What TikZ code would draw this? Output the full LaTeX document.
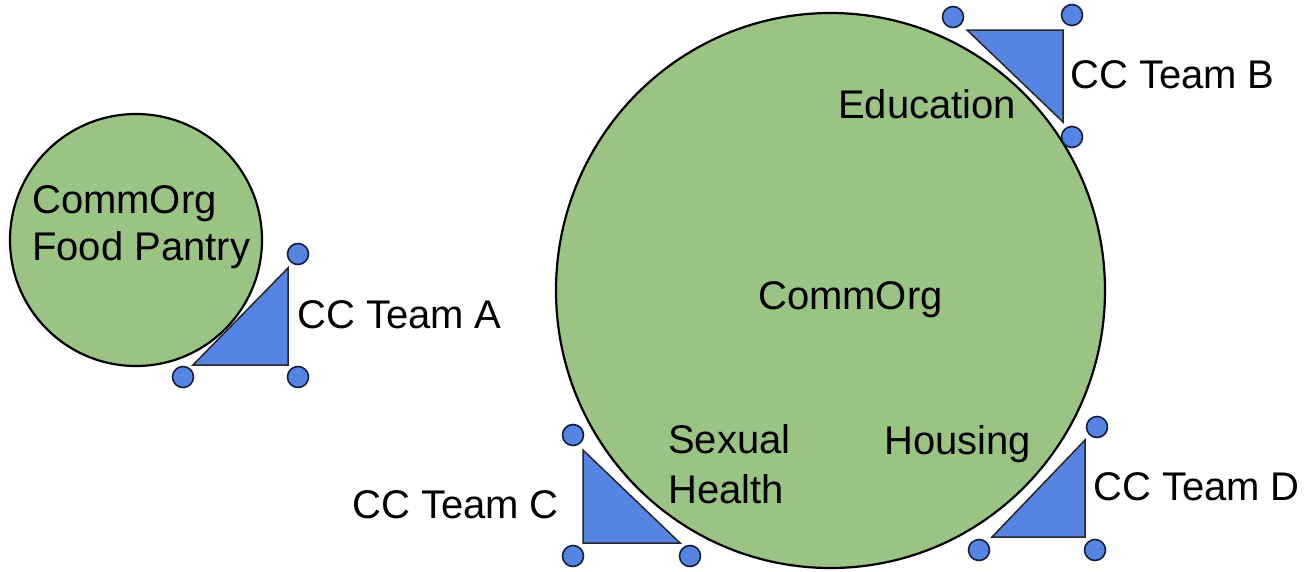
\documentclass[tikz,border=0pt]{standalone}
\usepackage{fontspec}
\setmainfont{Liberation Sans}
\definecolor{orggreen}{RGB}{155,195,131}
\definecolor{teamblue}{RGB}{86,132,226}
\definecolor{handleedge}{RGB}{20,30,60}
\begin{document}
\begin{tikzpicture}[x=1pt,y=-1pt,
  org/.style={draw=black, line width=2.2pt, fill=orggreen},
  team/.style={draw=black!85, line width=1.5pt, fill=teamblue, line join=miter},
  handle/.style={circle, draw=handleedge, line width=1.6pt, fill=teamblue, minimum size=21pt, inner sep=0pt},
  lbl/.style={font=\fontsize{40}{48}\selectfont, inner sep=0pt, anchor=base west, align=left}]
\useasboundingbox (0,0) rectangle (1306,571);
% organisations
\draw[org] (136,240) circle [radius=126];
\draw[org] (830.5,290.5) ellipse [x radius=274.5, y radius=277.5];
% Team A
\draw[team] (193,365) -- (288,365) -- (288,268) -- cycle;
\node[handle] (a1) at (298,254) {};
\node[handle] (a2) at (183,377) {};
\node[handle] (a3) at (298,377) {};
% Team B
\draw[team] (967,30) -- (1063,30) -- (1063,122) -- cycle;
\node[handle] (b1) at (953,17) {};
\node[handle] (b2) at (1072,15) {};
\node[handle] (b3) at (1072,137) {};
% Team C
\draw[team] (583,450) -- (583,543) -- (680,543) -- cycle;
\node[handle] (c1) at (573,435) {};
\node[handle] (c2) at (573,556) {};
\node[handle] (c3) at (690,556) {};
% Team D
\draw[team] (1085,440) -- (1085,537) -- (992,537) -- cycle;
\node[handle] (d1) at (1097,427) {};
\node[handle] (d2) at (979,550) {};
\node[handle] (d3) at (1095,550) {};
% labels (base anchor of a two-line node is the last line's baseline)
\node[lbl, font=\fontsize{40}{47}\selectfont] (fp) at (32,260) {CommOrg\\Food Pantry};
\node[lbl] (ta) at (297,328) {CC Team A};
\node[lbl] (tb) at (1070,88) {CC Team B};
\node[lbl] (ed) at (838,118) {Education};
\node[lbl] (co) at (758,309) {CommOrg};
\node[lbl, font=\fontsize{40}{50}\selectfont] (sh) at (668,503) {Sexual\\Health};
\node[lbl] (ho) at (884,454) {Housing};
\node[lbl] (tc) at (352,518) {CC Team C};
\node[lbl] (td) at (1093,500) {CC Team D};
\end{tikzpicture}
\end{document}
